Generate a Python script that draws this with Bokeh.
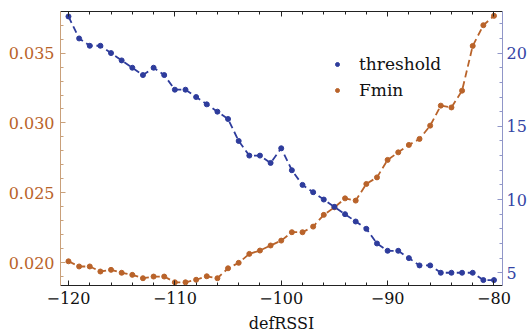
from bokeh.plotting import figure
from bokeh.models import (Range1d, LinearAxis, SingleIntervalTicker, NumeralTickFormatter,
                          CustomJSTickFormatter, Legend, LegendItem, ColumnDataSource)
from bokeh.embed import file_html
from bokeh.resources import INLINE

# ---- data ----
def_rssi = list(range(-120, -79))
threshold = [22.5, 21, 20.5, 20.5, 20, 19.5, 19, 18.5, 19, 18.5,
             17.5, 17.5, 17, 16.5, 16, 15.5, 14, 13, 13, 12.5,
             13.5, 12, 11, 10.5, 10, 9.5, 9, 8.5, 8, 7,
             6.5, 6.5, 6, 5.5, 5.5, 5, 5, 5, 5, 4.5, 4.5]
fmin = [0.02011, 0.01974, 0.01974, 0.01938, 0.0195, 0.01929, 0.01914, 0.0189, 0.01902, 0.01902,
        0.01861, 0.01861, 0.01879, 0.01904, 0.0189, 0.01961, 0.0200, 0.02064, 0.02088, 0.02124,
        0.02159, 0.02219, 0.02219, 0.02259, 0.02343, 0.02397, 0.02461, 0.02445, 0.02564, 0.02611,
        0.02736, 0.0279, 0.02843, 0.02886, 0.02981, 0.03124, 0.03111, 0.03231, 0.03551, 0.03699, 0.03766]
series_names = ["threshold", "Fmin"]
x_label = "defRSSI"

BLUE = "#2e3c9c"
ORANGE = "#b9632a"
FONT = "DejaVu Serif"

src = ColumnDataSource(dict(x=def_rssi, thr=threshold, fmin=fmin))

p = figure(width=529, height=335, output_backend="svg", toolbar_location=None,
           x_range=Range1d(-120.75, -79.2), y_range=Range1d(0.01838, 0.03797),
           x_axis_type=None, y_axis_type=None,
           min_border_left=60, min_border_right=24, min_border_top=11, min_border_bottom=50)
p.extra_y_ranges = {"thr": Range1d(4.13, 22.84)}
p.outline_line_color = None
p.xgrid.visible = False
p.ygrid.visible = False
p.background_fill_color = "white"

minus_fmt = CustomJSTickFormatter(code="return tick < 0 ? '\u2212' + Math.abs(tick) : String(tick);")
blank_fmt = CustomJSTickFormatter(code="return '';")

def style(ax, line_color, label_color):
    ax.axis_line_color = line_color
    ax.axis_line_width = 1
    ax.major_tick_line_color = line_color
    ax.minor_tick_line_color = line_color
    ax.major_tick_in = 5
    ax.major_tick_out = 0
    ax.minor_tick_in = 3
    ax.minor_tick_out = 0
    ax.major_label_text_font = FONT
    ax.major_label_text_font_size = "16px"
    ax.major_label_text_color = label_color

bottom = LinearAxis(ticker=SingleIntervalTicker(interval=10, num_minor_ticks=5),
                    formatter=minus_fmt, axis_label=x_label)
style(bottom, "#222222", "#111111")
bottom.major_label_standoff = 6
bottom.axis_label_text_font = FONT
bottom.axis_label_text_font_size = "16px"
bottom.axis_label_text_font_style = "normal"
bottom.axis_label_text_color = "#111111"
bottom.axis_label_standoff = 7
p.add_layout(bottom, "below")

top = LinearAxis(ticker=SingleIntervalTicker(interval=10, num_minor_ticks=5), formatter=blank_fmt)
style(top, "#222222", "#111111")
top.major_label_standoff = 0
p.add_layout(top, "above")

left = LinearAxis(ticker=SingleIntervalTicker(interval=0.005, num_minor_ticks=5),
                  formatter=NumeralTickFormatter(format="0.000"))
style(left, "#c9a07a", ORANGE)
left.major_label_standoff = 6
p.add_layout(left, "left")

right = LinearAxis(y_range_name="thr", ticker=SingleIntervalTicker(interval=5, num_minor_ticks=5))
style(right, "#9096c8", "#3545a5")
right.major_label_standoff = 4
p.add_layout(right, "right")

p.line("x", "fmin", source=src, line_color=ORANGE, line_width=1.8, line_dash="7 4")
s_f = p.scatter("x", "fmin", source=src, size=5, color=ORANGE)
p.line("x", "thr", source=src, y_range_name="thr", line_color=BLUE, line_width=1.8, line_dash="7 4")
s_t = p.scatter("x", "thr", source=src, y_range_name="thr", size=5, color=BLUE)

legend = Legend(items=[LegendItem(label=series_names[0], renderers=[s_t]),
                       LegendItem(label=series_names[1], renderers=[s_f])],
                location=(272, 185), orientation="vertical")
legend.background_fill_alpha = 0
legend.border_line_color = None
legend.padding = 0
legend.margin = 0
legend.glyph_width = 10
legend.glyph_height = 20
legend.label_height = 20
legend.spacing = 6
legend.label_standoff = 17
legend.label_text_font = FONT
legend.label_text_font_size = "17px"
legend.label_text_color = "#111111"
p.add_layout(legend, "center")

open("out.html", "w").write(file_html(p, INLINE))
